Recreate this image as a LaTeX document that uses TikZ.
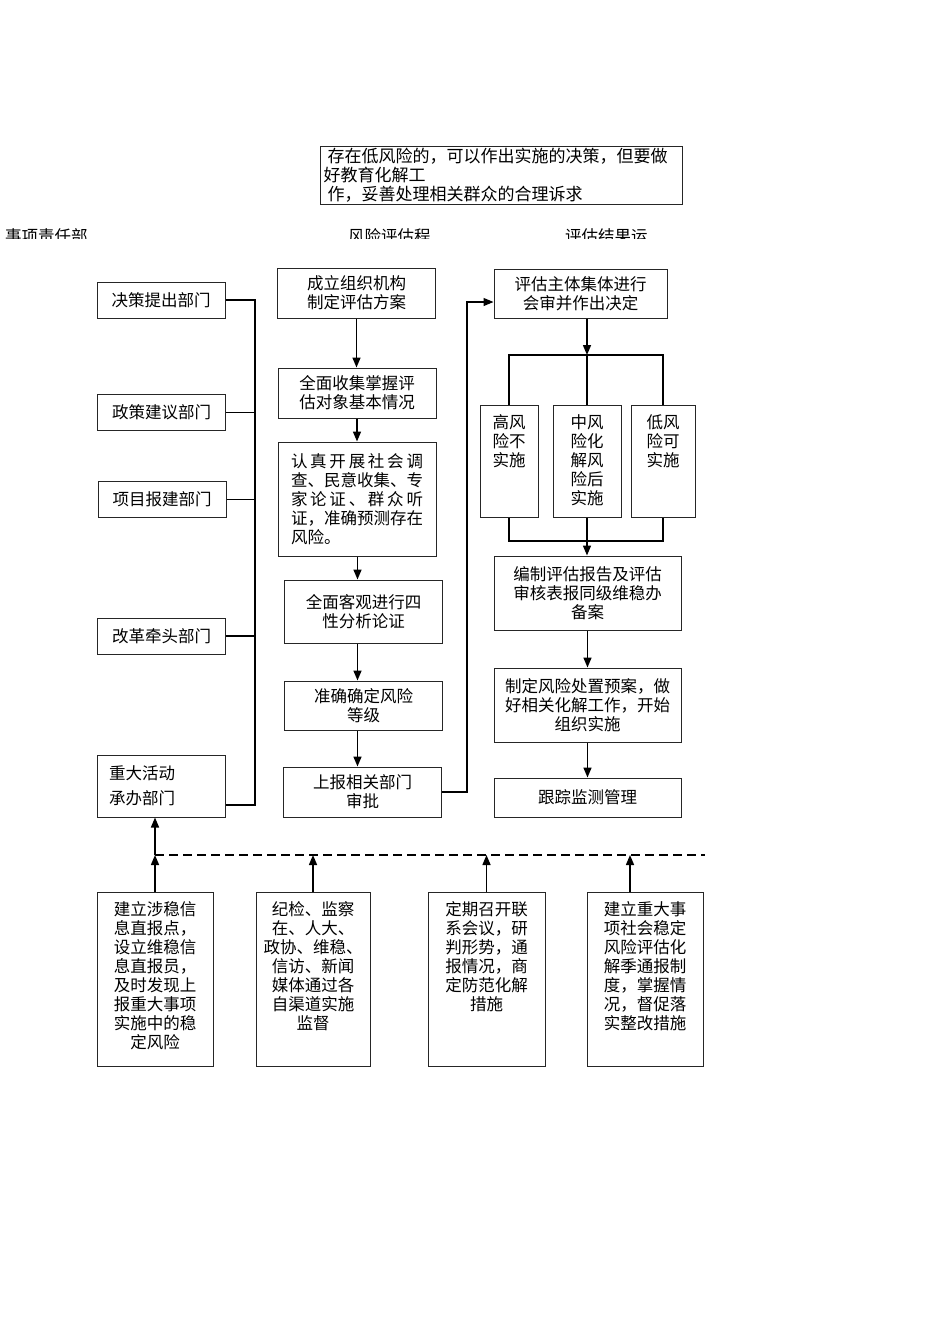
\documentclass[tikz,border=0pt]{standalone}
\usepackage{fontspec}
\setmainfont{Noto Sans CJK SC}
\usetikzlibrary{arrows.meta}

\begin{document}
\begin{tikzpicture}[
        x=1pt, y=-1pt,
        >={Triangle[length=10pt,width=8pt]},
        base/.style={draw=black!85, line width=1pt, align=center, inner sep=0pt, font=\fontsize{16.5}{19}\selectfont},
        dept/.style={base, minimum width=128pt, minimum height=36pt},
        proc/.style={base, minimum width=158pt, minimum height=50pt},
        result/.style={base, minimum width=187pt, minimum height=74pt},
        risk/.style={base, anchor=north, text width=#1, text height=23pt, text depth=89pt},
        measure/.style={base, anchor=north, text width=#1, text height=23pt, text depth=151pt},
        head/.style={anchor=base west, inner sep=0pt, font=\fontsize{16.5}{19}\selectfont},
        flow/.style={->, line width=1.5pt},
        link/.style={line width=1.3pt},
        dashline/.style={line width=1.8pt, dash pattern=on 9pt off 5pt}
    ]
        \useasboundingbox[fill=white] (0,0) rectangle (950,1344);

        \node[base, anchor=north west, minimum width=362pt, minimum height=58pt, text width=356pt, align=left, font=\fontsize{17}{19}\selectfont] (note) at (320,146) {\hspace*{4pt}存在低风险的，可以作出实施的决策，但要做\\好教育化解工\\\hspace*{4pt}作，妥善处理相关群众的合理诉求};

        \begin{scope}
            \clip (0,0) rectangle (950,238);
            \node[head] (hdept) at (5,242) {事项责任部};
            \node[head] (hproc) at (348,242) {风险评估程};
            \node[head] (hres) at (565,242) {评估结果运};
        \end{scope}

        % departments
        \node[dept] (d1) at (161,300) {决策提出部门};
        \node[dept] (d2) at (161.5,412.5) {政策建议部门};
        \node[dept] (d3) at (162,499.5) {项目报建部门};
        \node[dept] (d4) at (161.5,636) {改革牵头部门};
        \node[dept, minimum height=62pt, text width=104pt, align=left] (d5) at (161,786) {重大活动\\[6pt]承办部门};
        \coordinate (deptbus) at (255,300);
        \coordinate (deptend) at (255,805);

        % assessment procedure
        \node[proc] (p1) at (356.5,293) {成立组织机构\\制定评估方案};
        \node[proc] (p2) at (357,393) {全面收集掌握评\\估对象基本情况};
        \node[proc, minimum height=114pt, text width=133pt, align=left] (p3) at (357.5,499) {\makebox[8em]{认\hfill 真\hfill 开\hfill 展\hfill 社\hfill 会\hfill 调}\\查、民意收集、专\\\makebox[8em]{家\hfill 论\hfill 证\hfill 、\hfill 群\hfill 众\hfill 听}\\证，准确预测存在\\风险。};
        \node[proc, minimum height=63pt] (p4) at (363.5,611.5) {全面客观进行四\\性分析论证};
        \node[proc, minimum height=49pt] (p5) at (363.5,705.5) {准确确定风险\\等级};
        \node[proc] (p6) at (362.5,792) {上报相关部门\\审批};
        \coordinate (back) at (467,302);

        % results
        \node[proc, minimum width=173pt, minimum height=49pt] (r1) at (580.5,293.5) {评估主体集体进行\\会审并作出决定};
        \coordinate (split) at (587,355);
        \node[risk=58pt] (high) at (509,405) {高风\\险不\\实施};
        \node[risk=68pt] (mid) at (587,405) {中风\\险化\\解风\\险后\\实施};
        \node[risk=64pt] (low) at (663,405) {低风\\险可\\实施};
        \coordinate (merge) at (587,541);
        \node[result] (r2) at (587.5,593) {编制评估报告及评估\\审核表报同级维稳办\\备案};
        \node[result] (r3) at (587.5,705) {制定风险处置预案，做\\好相关化解工作，开始\\组织实施};
        \node[result, minimum height=39pt] (r4) at (587.5,797.5) {跟踪监测管理};

        % supervision
        \coordinate (busl) at (155,855);
        \coordinate (busr) at (705,855);
        \coordinate (a4) at (630,855);
        \node[measure=116pt] (m1) at (155,892) {建立涉稳信\\息直报点，\\设立维稳信\\息直报员，\\及时发现上\\报重大事项\\实施中的稳\\定风险};
        \node[measure=114pt] (m2) at (313,892) {纪检、监察\\在、人大、\\政协、维稳、\\信访、新闻\\媒体通过各\\自渠道实施\\监督};
        \node[measure=117pt] (m3) at (486.5,892) {定期召开联\\系会议，研\\判形势，通\\报情况，商\\定防范化解\\措施};
        \node[measure=116pt] (m4) at (645,892) {建立重大事\\项社会稳定\\风险评估化\\解季通报制\\度，掌握情\\况，督促落\\实整改措施};

        \draw[link] (d1.east) -- (deptbus) -- (deptend) -- (deptend -| d5.east);
        \draw[link] (d2.east) -- (d2.east -| deptbus);
        \draw[link] (d3.east) -- (d3.east -| deptbus);
        \draw[link] (d4.east) -- (d4.east -| deptbus);

        \draw[flow] (p1.south) -- (p1.south |- p2.north);
        \draw[flow] (p2.south) -- (p2.south |- p3.north);
        \draw[flow] (p3.south) -- (p3.south |- p4.north);
        \draw[flow] (p3.south |- p4.south) -- (p3.south |- p5.north);
        \draw[flow] (p3.south |- p5.south) -- (p3.south |- p6.north);
        \draw[flow, line width=1.2pt] (p6.east) -| (back) -- (back -| r1.west);

        \draw[flow] (r1.south -| split) -- (split);
        \draw[link] (high.north) |- (split) -| (low.north);
        \draw[link] (split) -- (mid.north);
        \draw[link] (high.south) |- (merge) -| (low.south);
        \draw[flow] (mid.south) -- (mid.south |- r2.north);
        \draw[flow] (r2.south) -- (r3.north);
        \draw[flow] (r3.south) -- (r4.north);

        \draw[dashline] (busl) -- (busr);
        \draw[flow] (m1.north) -- (busl);
        \draw[flow] (busl) -- (busl |- d5.south);
        \draw[flow] (m2.north) -- (m2.north |- busl);
        \draw[flow] (m3.north) -- (m3.north |- busl);
        \draw[flow] (a4 |- m4.north) -- (a4);
    \end{tikzpicture}
\end{document}
